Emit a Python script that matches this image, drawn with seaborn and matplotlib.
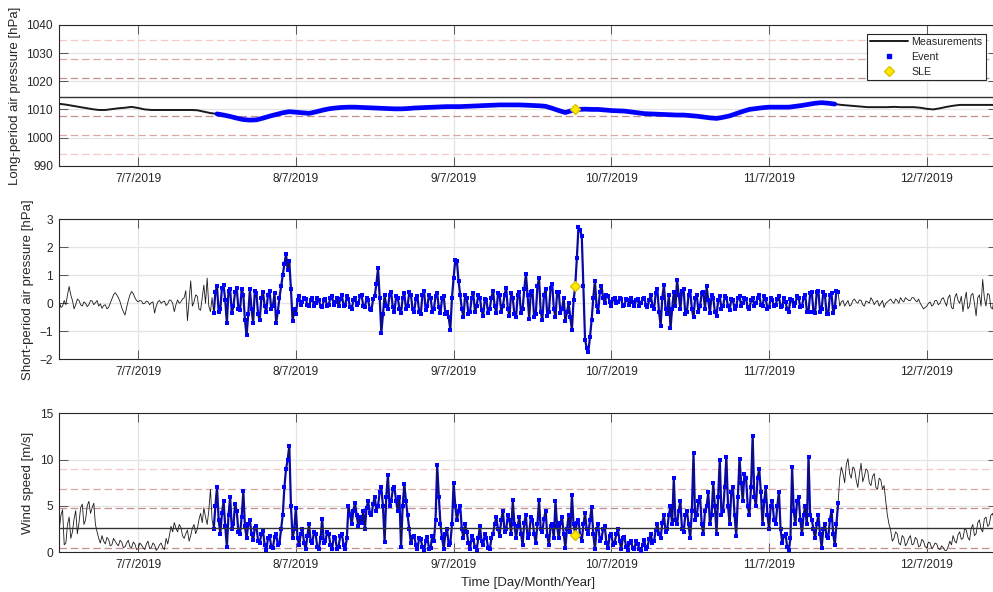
import numpy as np
import pandas as pd
import seaborn as sns
import matplotlib.pyplot as plt
import matplotlib.dates as mdates
from matplotlib.lines import Line2D
from matplotlib.ticker import FuncFormatter

## DATA

# long-period air pressure [hPa], hourly samples from 6/7/2019 12:00
lp_start = '2019-07-06 12:00'
lp_pressure = [
    1012.0, 1011.7, 1011.3, 1010.9, 1010.5, 1010.1, 1009.8, 1009.8, 1010.1, 1010.4, 1010.6, 1010.9,
    1010.5, 1010.0, 1009.8, 1009.8, 1009.8, 1009.8, 1009.8, 1009.8, 1009.8, 1009.7, 1009.2, 1008.7,
    1008.4, 1008.0, 1007.5, 1006.9, 1006.4, 1006.2, 1006.3, 1006.9, 1007.6, 1008.2, 1008.8, 1009.2,
    1009.0, 1008.8, 1008.6, 1009.1, 1009.7, 1010.2, 1010.5, 1010.7, 1010.8, 1010.8, 1010.7, 1010.6,
    1010.5, 1010.4, 1010.3, 1010.2, 1010.2, 1010.3, 1010.5, 1010.6, 1010.7, 1010.8, 1010.9, 1011.0,
    1011.0, 1011.0, 1011.1, 1011.2, 1011.3, 1011.4, 1011.5, 1011.6, 1011.6, 1011.6, 1011.6, 1011.5,
    1011.4, 1011.3, 1011.1, 1010.4, 1009.6, 1008.9, 1009.6, 1010.0, 1010.1, 1010.0, 1010.0, 1009.8,
    1009.6, 1009.5, 1009.4, 1009.1, 1008.8, 1008.5, 1008.4, 1008.3, 1008.2, 1008.1, 1008.0, 1008.0,
    1007.8, 1007.6, 1007.3, 1007.0, 1006.8, 1007.2, 1007.7, 1008.5, 1009.3, 1010.0, 1010.3, 1010.6,
    1010.8, 1010.8, 1010.8, 1010.8, 1011.1, 1011.4, 1011.8, 1012.2, 1012.4, 1012.2, 1011.9, 1011.6,
    1011.4, 1011.2, 1011.0, 1010.8, 1010.8, 1010.8, 1010.8, 1010.9, 1010.8, 1010.8, 1010.8, 1010.6,
    1010.2, 1010.0, 1010.4, 1010.9, 1011.3, 1011.6, 1011.6, 1011.6, 1011.6, 1011.6, 1011.6, 1011.6]

# short-period air pressure [hPa] and wind speed [m/s], 15-min samples from 6/7/2019 12:00
sp_start = '2019-07-06 12:00'
sp_pressure = [
    0.05, -0.15, -0.1, 0.1, -0.05, 0.3, 0.6, 0.3, 0.1, -0.2, -0.05, 0.15, 0.1, -0.05, -0.1, 0.05, 0.0, -0.12, -0.05, 0.1,
    0.08, -0.05, 0.02, 0.1, -0.1, -0.02, -0.18, -0.08, -0.05, -0.2, -0.15, 0.0, 0.15, 0.3, 0.38, 0.3, 0.2, 0.05, -0.15, -0.3,
    -0.42, -0.15, 0.1, 0.3, 0.42, 0.35, 0.2, 0.1, 0.05, 0.1, 0.08, -0.02, 0.0, 0.08, 0.05, -0.05, 0.02, 0.05, -0.35, -0.1,
    0.05, 0.1, 0.0, 0.05, 0.08, -0.08, -0.02, 0.12, 0.1, 0.0, -0.3, -0.05, 0.12, 0.0, 0.05, 0.15, 0.2, 0.45, -0.62, 0.1,
    0.8, -0.1, 0.05, 0.3, 0.25, -0.2, -0.25, 0.2, 0.65, 0.0, 0.9, -0.1, -0.3, 0.2, -0.35, 0.4, 0.6, -0.3, -0.2, 0.55,
    0.65, 0.1, -0.7, 0.45, 0.5, -0.35, -0.1, 0.4, 0.55, -0.2, -0.25, 0.5, 0.3, -0.6, -1.15, -0.4, 0.5, -0.2, -0.7, 0.45,
    0.35, -0.4, -0.6, 0.2, 0.4, -0.1, -0.3, 0.3, 0.45, -0.2, -0.1, 0.35, -0.7, -0.3, 0.2, 0.6, 1.0, 1.4, 1.75, 1.2,
    1.5, 0.5, -0.65, -0.2, -0.4, 0.1, 0.25, -0.05, 0.05, 0.2, 0.15, -0.05, -0.1, 0.1, 0.2, -0.1, 0.0, 0.2, 0.1, -0.1,
    -0.15, 0.1, 0.15, -0.1, -0.05, 0.2, 0.25, -0.05, 0.05, 0.2, -0.1, 0.15, 0.3, -0.1, -0.05, 0.25, 0.15, -0.15, -0.2, 0.1,
    0.2, -0.05, 0.0, 0.25, 0.3, -0.1, -0.15, 0.2, 0.1, -0.2, -0.25, 0.15, 0.25, 0.7, 1.25, 0.2, -1.05, -0.4, 0.3, -0.1,
    -0.2, 0.3, 0.4, -0.15, -0.3, 0.25, 0.2, -0.2, -0.35, 0.2, 0.35, -0.2, -0.1, 0.4, 0.3, -0.2, -0.3, 0.15, 0.25, -0.3,
    -0.4, 0.3, 0.45, -0.25, -0.1, 0.3, 0.2, -0.3, -0.2, 0.25, 0.35, -0.15, -0.35, 0.2, 0.25, -0.4, -0.3, -0.5, -0.95, 0.2,
    0.9, 1.55, 1.5, 0.8, 0.3, -0.2, -0.5, 0.3, 0.2, -0.4, -0.3, 0.2, 0.35, -0.3, -0.1, 0.3, 0.2, -0.25, -0.45, 0.15,
    0.1, -0.35, -0.2, 0.2, 0.45, -0.1, -0.35, 0.35, 0.3, -0.3, -0.1, 0.3, 0.55, -0.2, -0.45, 0.35, 0.2, -0.4, -0.5, 0.3,
    0.4, -0.35, -0.2, 0.5, 1.05, 0.3, -0.55, 0.4, 0.45, -0.5, -0.4, 0.6, 0.9, -0.3, -0.6, 0.3, 0.5, -0.45, -0.3, 0.55,
    0.7, -0.2, -0.5, 0.4, 0.4, -0.35, -0.2, 0.2, -0.65, -0.3, 0.0, -0.5, -0.95, 0.1, 0.6, 1.6, 2.74, 2.6, 2.4, 0.6,
    -1.3, -1.6, -1.73, -1.2, -0.6, 0.2, 0.8, -0.1, -0.3, 0.4, 0.6, 0.2, 0.0, 0.3, 0.25, 0.05, -0.1, 0.15, 0.2, 0.0,
    0.05, 0.2, 0.15, -0.1, -0.05, 0.15, 0.1, -0.05, 0.2, 0.05, -0.1, 0.1, 0.15, -0.1, 0.0, 0.15, 0.2, -0.05, -0.15, 0.1,
    0.3, -0.1, -0.2, 0.35, 0.5, -0.3, -0.8, 0.2, 0.65, -0.2, -0.4, 0.3, -0.9, -0.2, 0.4, -0.1, 0.83, 0.3, -0.2, 0.45,
    0.5, -0.4, -0.3, 0.3, 0.45, -0.2, -0.5, 0.2, 0.3, -0.3, -0.1, 0.35, 0.4, -0.2, 0.6, 0.1, -0.35, 0.3, 0.2, -0.3,
    -0.45, 0.1, 0.25, -0.2, -0.1, 0.25, 0.2, -0.1, -0.25, 0.15, 0.1, -0.2, -0.1, 0.2, 0.25, -0.1, 0.0, 0.2, 0.15, -0.15,
    -0.2, 0.1, 0.2, -0.1, 0.0, 0.2, 0.3, -0.05, -0.1, 0.25, 0.15, -0.2, -0.15, 0.2, 0.1, -0.1, -0.05, 0.15, 0.25, -0.15,
    -0.1, 0.2, 0.05, -0.2, -0.3, 0.15, 0.1, -0.1, 0.0, 0.25, 0.2, -0.15, -0.1, 0.2, 0.3, -0.3, -0.3, 0.35, 0.4, -0.3,
    -0.35, 0.4, 0.45, -0.3, -0.2, 0.4, 0.3, -0.4, -0.4, 0.3, 0.35, -0.35, -0.15, 0.45, 0.4, -0.1, 0.05, 0.1, -0.1, 0.0,
    0.1, -0.1, -0.05, 0.1, 0.15, 0.05, 0.0, 0.12, 0.1, -0.05, -0.1, 0.08, 0.05, 0.0, 0.2, 0.1, -0.05, 0.05, 0.1, -0.1,
    0.0, 0.1, -0.15, 0.0, 0.05, 0.1, 0.15, 0.05, 0.0, 0.15, 0.1, 0.0, 0.2, 0.1, 0.05, 0.2, 0.15, 0.1, 0.1, 0.2,
    0.2, 0.1, 0.05, 0.15, 0.0, -0.1, -0.2, -0.15, -0.1, 0.0, 0.05, -0.1, -0.05, 0.1, 0.1, -0.05, 0.0, 0.15, 0.2, 0.05,
    -0.1, 0.2, 0.3, -0.15, -0.2, 0.2, 0.35, 0.1, 0.0, 0.25, -0.3, 0.1, 0.4, -0.2, -0.1, 0.3, 0.35, 0.0, -0.45, 0.2,
    0.3, -0.1, 0.85, 0.2, -0.1, 0.35, 0.3, -0.15, -0.2, 0.2, 0.1]

wind_speed = [
    2.5, 4.0, 4.6, 0.8, 1.0, 3.0, 3.8, 1.5, 2.2, 3.6, 4.5, 2.0, 3.2, 4.8, 5.2, 3.0, 3.5, 5.0, 5.5, 4.2,
    4.8, 5.3, 3.0, 2.2, 1.5, 1.0, 1.8, 1.2, 0.9, 1.6, 1.4, 0.7, 0.8, 1.5, 1.2, 0.9, 0.7, 1.3, 1.1, 0.5,
    0.6, 1.0, 1.3, 0.6, 0.5, 1.1, 0.9, 0.3, 0.4, 1.0, 0.8, 0.5, 0.3, 0.9, 1.2, 0.4, 0.5, 1.0, 0.8, 0.2,
    0.4, 0.8, 1.0, 0.5, 0.3, 1.5, 0.9, 1.8, 2.8, 2.2, 3.2, 2.6, 2.2, 3.0, 2.7, 1.8, 1.5, 2.0, 2.4, 1.2,
    1.8, 2.6, 3.0, 2.0, 2.5, 3.5, 4.2, 3.2, 4.8, 3.8, 3.0, 4.5, 6.8, 3.5, 2.5, 5.0, 7.0, 3.5, 2.0, 4.2,
    5.5, 2.8, 0.6, 4.0, 6.0, 2.5, 3.0, 5.2, 4.5, 2.2, 2.0, 3.8, 6.6, 2.8, 1.5, 3.0, 3.5, 2.0, 1.3, 2.6,
    2.8, 1.2, 1.0, 2.0, 2.3, 0.8, 0.2, 1.5, 1.8, 0.6, 0.5, 1.6, 2.0, 0.8, 1.0, 2.5, 4.0, 7.0, 9.0, 10.0,
    11.5, 5.0, 1.5, 2.5, 4.8, 1.5, 0.8, 2.0, 2.5, 1.0, 0.3, 1.8, 3.0, 1.2, 1.0, 2.2, 2.0, 0.6, 0.4, 1.5,
    3.6, 1.0, 1.2, 2.2, 2.0, 0.8, 0.3, 1.6, 1.5, 0.4, 0.6, 1.8, 2.0, 0.8, 0.3, 1.5, 5.0, 4.0, 3.0, 4.5,
    5.3, 4.0, 2.8, 3.8, 3.2, 4.5, 2.5, 4.8, 5.5, 4.2, 4.0, 5.2, 6.0, 4.5, 5.0, 6.5, 7.0, 5.0, 1.1, 6.0,
    8.3, 5.0, 5.5, 6.8, 7.0, 5.5, 4.5, 6.0, 0.6, 5.0, 7.4, 5.5, 4.0, 2.5, 1.0, 1.6, 1.8, 0.8, 0.3, 1.5,
    1.4, 0.6, 0.2, 1.2, 1.7, 0.4, 0.5, 1.8, 1.2, 3.5, 9.4, 6.0, 3.0, 1.5, 0.4, 2.0, 2.5, 0.8, 1.0, 3.0,
    7.5, 5.0, 3.5, 4.5, 5.0, 2.5, 1.5, 3.0, 2.2, 1.0, 0.3, 1.8, 1.3, 0.6, 0.2, 1.5, 2.8, 1.2, 0.8, 2.0,
    1.5, 0.5, 0.3, 1.5, 2.0, 3.0, 3.8, 2.5, 1.8, 3.5, 4.5, 2.2, 2.5, 4.0, 3.5, 2.0, 5.6, 3.0, 1.5, 2.8,
    3.8, 2.0, 0.8, 3.2, 4.0, 1.5, 2.0, 3.8, 3.5, 2.0, 1.0, 3.0, 5.6, 2.5, 2.2, 3.6, 4.5, 1.8, 0.8, 2.8,
    3.0, 1.5, 5.5, 2.8, 1.5, 3.2, 3.8, 2.0, 0.5, 2.5, 4.0, 2.2, 6.2, 3.0, 2.0, 3.2, 3.5, 1.8, 1.2, 3.0,
    4.2, 2.5, 2.0, 3.5, 4.9, 2.0, 0.3, 2.5, 3.0, 1.2, 1.5, 2.5, 2.8, 1.0, 0.5, 1.8, 2.0, 0.8, 1.0, 2.0,
    2.5, 1.2, 0.4, 1.5, 1.6, 0.6, 0.2, 1.0, 1.2, 0.5, 0.3, 1.2, 0.9, 0.4, 0.1, 0.8, 1.3, 0.4, 0.6, 1.4,
    2.0, 1.0, 1.2, 2.4, 3.0, 2.0, 1.5, 3.2, 4.0, 2.2, 2.5, 4.0, 5.0, 3.0, 8.0, 3.5, 3.0, 4.5, 5.5, 2.5,
    2.2, 4.0, 4.5, 3.0, 1.5, 4.5, 10.7, 3.5, 4.0, 5.5, 6.0, 3.0, 2.0, 4.5, 5.0, 6.5, 3.0, 4.0, 7.5, 5.0,
    2.0, 6.0, 10.0, 4.0, 4.5, 7.0, 10.3, 5.0, 3.0, 6.5, 7.0, 4.0, 1.8, 6.0, 10.1, 7.5, 5.5, 8.5, 8.0, 5.0,
    4.0, 7.0, 12.6, 6.0, 5.0, 8.0, 9.0, 6.5, 3.0, 5.5, 7.0, 4.0, 2.5, 5.0, 5.5, 3.5, 3.0, 5.0, 6.5, 2.5,
    1.0, 1.8, 2.0, 0.6, 0.2, 1.5, 9.2, 4.5, 3.0, 5.5, 6.0, 3.5, 2.0, 4.0, 5.0, 3.0, 10.3, 4.0, 3.5, 2.5,
    1.5, 3.0, 4.0, 2.0, 0.5, 2.5, 3.0, 1.8, 1.5, 3.5, 4.5, 2.0, 0.8, 3.0, 5.3, 8.0, 9.2, 8.5, 7.5, 9.5,
    10.1, 8.5, 8.0, 9.2, 9.0, 7.8, 7.0, 8.5, 9.6, 7.6, 8.2, 9.0, 8.8, 7.5, 7.2, 8.2, 8.5, 7.0, 6.8, 8.0,
    7.8, 6.8, 7.2, 5.5, 4.0, 3.0, 2.4, 1.2, 1.5, 2.2, 2.0, 1.0, 0.8, 1.8, 1.6, 0.7, 1.0, 1.5, 1.8, 0.8,
    0.9, 1.6, 1.4, 0.6, 0.7, 1.4, 1.2, 0.6, 0.5, 1.1, 1.0, 0.4, 0.6, 1.0, 0.9, 0.4, 0.3, 0.7, 0.5, 0.2,
    0.2, 0.6, 1.2, 0.8, 1.8, 1.2, 1.0, 1.9, 2.2, 1.4, 1.5, 2.5, 2.4, 1.6, 1.3, 2.6, 3.0, 1.8, 2.0, 3.2,
    3.5, 2.5, 2.2, 3.6, 3.8, 2.8, 3.0, 4.0, 4.2, 3.5, 4.5]

# event window and storm (SLE) point
event_start = '2019-07-07 11:30'
event_end = '2019-07-11 10:30'
sle_time = '2019-07-09 18:30'
sle_lp = 1010.0
sle_sp = 0.6
sle_wind = 1.85

# mean / std reference levels
lp_mean, lp_std = 1014.3, 6.73
wind_mean, wind_std = 2.62, 2.12

x_start, x_end = '2019-07-06 12:00', '2019-07-12 10:45'


## BUILD DATAFRAMES

df_lp = pd.DataFrame({'time': pd.date_range(lp_start, periods=len(lp_pressure), freq='1h'),
                      'value': lp_pressure})
df_sp = pd.DataFrame({'time': pd.date_range(sp_start, periods=len(sp_pressure), freq='15min'),
                      'value': sp_pressure})
df_ws = pd.DataFrame({'time': pd.date_range(sp_start, periods=len(wind_speed), freq='15min'),
                      'value': wind_speed})
for d in (df_lp, df_sp, df_ws):
    d['event'] = (d['time'] >= pd.Timestamp(event_start)) & (d['time'] <= pd.Timestamp(event_end))


## STYLE

sns.set_theme(style='ticks', rc={
    'axes.edgecolor': '#262626',
    'axes.linewidth': 0.8,
    'xtick.direction': 'in', 'ytick.direction': 'in',
    'xtick.top': True, 'ytick.right': True,
    'xtick.major.size': 6.5, 'ytick.major.size': 6.5,
    'xtick.major.width': 0.6, 'ytick.major.width': 0.6,
    'xtick.color': '#404040', 'ytick.color': '#404040',
    'xtick.labelcolor': '#262626', 'ytick.labelcolor': '#262626',
    'xtick.major.pad': 5, 'ytick.major.pad': 4.5,
    'xtick.labelsize': 8.6, 'ytick.labelsize': 8.6,
    'axes.labelsize': 9.5, 'axes.labelcolor': '#262626',
})
plt.rcParams['font.family'] = ['Liberation Sans', 'DejaVu Sans']

sigma_colors = ['#c38f8f', '#dba8a8', '#f6c8c8']
blue = '#0000ff'
sle_face, sle_edge = '#ffea00', '#e0c000'

fig = plt.figure(figsize=(9.93, 5.92), dpi=100)
ax1 = fig.add_axes([0.0597, 0.7201, 0.9448, 0.2377])
ax2 = fig.add_axes([0.0597, 0.3931, 0.9448, 0.2365])
ax3 = fig.add_axes([0.0597, 0.0671, 0.9448, 0.2348])


def add_ref_lines(ax, mean, std):
    ax.axhline(mean, color='#333333', lw=1.0, zorder=5)
    for k, c in zip([1, 2, 3], sigma_colors):
        for sgn in (-1, 1):
            ax.axhline(mean + sgn * k * std, color=c, lw=0.9, ls=(0, (6, 3)), zorder=1.5)


def style_axes(ax, ylim, yticks, ylabel):
    ax.set_xlim(pd.Timestamp(x_start), pd.Timestamp(x_end))
    ax.set_ylim(*ylim)
    ax.set_yticks(yticks)
    ax.xaxis.set_major_locator(mdates.DayLocator())
    ax.xaxis.set_major_formatter(FuncFormatter(
        lambda v, pos: '{d.day}/{d.month}/{d.year}'.format(d=mdates.num2date(v))))
    ax.grid(True, color='#e4e4e4', lw=0.9)
    ax.set_axisbelow(True)
    ax.set_xlabel(None)
    ax.set_ylabel(ylabel)


def plot_noisy(ax, df):
    # blue band under the measurement line so the event blob reads as blue
    ev = df[df['event']]
    sns.lineplot(ax=ax, data=ev, x='time', y='value', color=blue, lw=1.6,
                 estimator=None, sort=False, zorder=3)
    sns.lineplot(ax=ax, data=df, x='time', y='value', color='k', lw=0.6,
                 estimator=None, sort=False, zorder=3.5)
    sns.scatterplot(ax=ax, data=ev, x='time', y='value', color=blue,
                    marker='s', s=10, linewidth=0, zorder=4)


## PANEL 1: long-period air pressure
add_ref_lines(ax1, lp_mean, lp_std)
sns.lineplot(ax=ax1, data=df_lp, x='time', y='value', color='k', lw=1.4,
             estimator=None, sort=False, zorder=3)
sns.lineplot(ax=ax1, data=df_lp[df_lp['event']], x='time', y='value', color=blue, lw=3.4,
             estimator=None, sort=False, zorder=4)
ax1.plot(pd.Timestamp(sle_time), sle_lp, ls='none', marker='D', ms=5.5,
         mfc=sle_face, mec=sle_edge, zorder=6)
style_axes(ax1, (990, 1040), np.arange(990, 1041, 10), 'Long-period air pressure [hPa]')

handles = [Line2D([], [], color='k', lw=1.4),
           Line2D([], [], ls='none', marker='s', ms=2.2, color=blue),
           Line2D([], [], ls='none', marker='D', ms=5.5, mfc=sle_face, mec=sle_edge)]
leg = ax1.legend(handles, ['Measurements', 'Event', 'SLE'], loc='upper right',
                 bbox_to_anchor=(0.9877, 0.936), borderaxespad=0, fontsize=7.7,
                 handlelength=3.5, handletextpad=0.35, labelspacing=0.45, borderpad=0.3,
                 fancybox=False, framealpha=1, edgecolor='#262626')
leg.get_frame().set_linewidth(0.8)
leg.set_zorder(10)

## PANEL 2: short-period air pressure
plot_noisy(ax2, df_sp)
ax2.plot(pd.Timestamp(sle_time), sle_sp, ls='none', marker='D', ms=5.5,
         mfc=sle_face, mec=sle_edge, zorder=6)
style_axes(ax2, (-2, 3), np.arange(-2, 4, 1), 'Short-period air pressure [hPa]')

## PANEL 3: wind speed
add_ref_lines(ax3, wind_mean, wind_std)
plot_noisy(ax3, df_ws)
ax3.plot(pd.Timestamp(sle_time), sle_wind, ls='none', marker='D', ms=5.5,
         mfc=sle_face, mec=sle_edge, zorder=6)
style_axes(ax3, (0, 15), np.arange(0, 16, 5), 'Wind speed [m/s]')
ax3.set_xlabel('Time [Day/Month/Year]')

fig.savefig('out.png', dpi=100)
